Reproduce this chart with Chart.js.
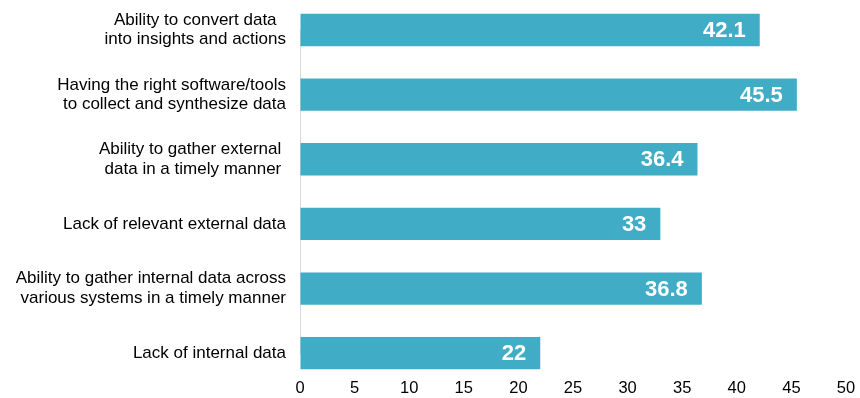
<!DOCTYPE html>
<html>
<head>
<meta charset="utf-8">
<script src="https://cdn.jsdelivr.net/npm/chart.js@4/dist/chart.umd.min.js"></script>
<style>
  body { margin: 0; background: #fff; }
</style>
</head>
<body>
<canvas id="chart" width="860" height="398"></canvas>
<script>
'use strict';

// categories, top to bottom
const categories = [
  ['Ability to convert data  ', 'into insights and actions'],
  ['Having the right software/tools', 'to collect and synthesize data'],
  ['Ability to gather external ', 'data in a timely manner '],
  'Lack of relevant external data',
  ['Ability to gather internal data across', 'various systems in a timely manner'],
  'Lack of internal data',
];
const values = [42.1, 45.5, 36.4, 33, 36.8, 22];
const xTicks = [0, 5, 10, 15, 20, 25, 30, 35, 40, 45, 50];

const barColor = '#41acc6';
const labelFont = 'Liberation Sans, Arial, sans-serif';

// white value labels drawn inside the end of each bar
const valueLabels = {
  id: 'valueLabels',
  afterDatasetsDraw(chart) {
    const ctx = chart.ctx;
    const meta = chart.getDatasetMeta(0);
    ctx.save();
    ctx.fillStyle = '#fff';
    ctx.font = 'bold 22px ' + labelFont;
    ctx.textAlign = 'right';
    ctx.textBaseline = 'middle';
    meta.data.forEach((bar, i) => {
      ctx.fillText(String(values[i]), bar.x - 14, bar.y + 1);
    });
    ctx.restore();
  }
};

let canvasElem = document.getElementById('chart');

new Chart(canvasElem, {
  type: 'bar',
  data: {
    labels: categories,
    datasets: [{
      data: values,
      backgroundColor: barColor,
      borderWidth: 0,
      categoryPercentage: 1,
      barPercentage: 0.5,
      clip: false,
    }],
  },
  options: {
    indexAxis: 'y',
    responsive: false,
    animation: false,
    layout: {
      autoPadding: false,
      padding: { top: 30, right: 14, bottom: 0, left: 0 },
    },
    plugins: {
      legend: { display: false },
      tooltip: { enabled: false },
    },
    scales: {
      x: {
        min: 0,
        max: 50,
        afterBuildTicks(scale) {
          scale.ticks = xTicks.map(v => ({ value: v }));
        },
        // invisible tick marks keep the labels clear of the bars
        grid: { drawOnChartArea: false, tickLength: 25, tickColor: 'transparent' },
        border: { display: false },
        ticks: {
          padding: 0,
          maxRotation: 0,
          color: '#000',
          font: { family: labelFont, size: 16.5 },
        },
      },
      y: {
        offset: false,
        afterFit(scale) { scale.width = 300; },
        grid: { display: false, drawTicks: false },
        border: { color: '#d9d9d9', width: 1 },
        ticks: {
          padding: 14,
          color: '#000',
          font: { family: labelFont, size: 17, lineHeight: 1.15 },
        },
      },
    },
  },
  plugins: [valueLabels],
});
</script>
</body>
</html>
